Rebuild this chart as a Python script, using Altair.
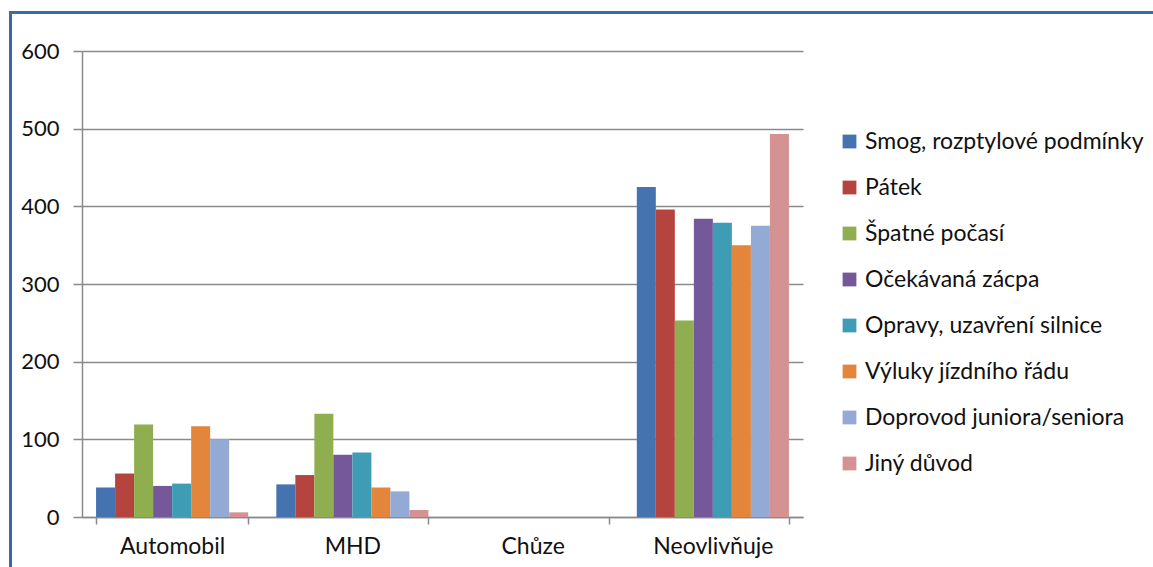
import altair as alt
import pandas as pd

# Transport mode categories on the x axis
categories = ["Automobil", "MHD", "Chůze", "Neovlivňuje"]

# Reasons (series), in legend order
reasons = [
    "Smog, rozptylové podmínky",
    "Pátek",
    "Špatné počasí",
    "Očekávaná zácpa",
    "Opravy, uzavření silnice",
    "Výluky jízdního řádu",
    "Doprovod juniora/seniora",
    "Jiný důvod",
]

# Counts per reason for each category
automobil = [38, 56, 119, 40, 43, 117, 100, 6]
mhd = [42, 54, 133, 80, 83, 38, 33, 9]
chuze = [0, 0, 0, 0, 0, 0, 0, 0]
neovlivnuje = [425, 396, 253, 384, 379, 350, 375, 493]

colors = ["#4573B0", "#B5443F", "#8FAE50", "#74589A",
          "#3F9CB5", "#E3853A", "#93ABD4", "#D49392"]

rows = []
for cat, vals in zip(categories, [automobil, mhd, chuze, neovlivnuje]):
    for i, (r, v) in enumerate(zip(reasons, vals)):
        rows.append({"kategorie": cat, "duvod": r, "poradi": i, "pocet": v})
df = pd.DataFrame(rows)

FONT = "Lato"
GRID = "#8a8a8a"
FS = 23

bars = alt.Chart(df).mark_bar(size=19).encode(
    x=alt.X(
        "kategorie:N",
        sort=categories,
        scale=alt.Scale(paddingInner=0.156, paddingOuter=0.078),
        axis=alt.Axis(
            title=None, labelAngle=0, tickBand="extent", tickSize=7,
            tickColor=GRID, domainColor=GRID, domainWidth=1.5, tickWidth=1.5,
            labelFontSize=FS, labelFont=FONT, labelColor="#111111",
            labelPadding=11, grid=False,
        ),
    ),
    xOffset=alt.XOffset("poradi:O", scale=alt.Scale(paddingInner=0, paddingOuter=0)),
    y=alt.Y(
        "pocet:Q",
        scale=alt.Scale(domain=[0, 600], nice=False),
        axis=alt.Axis(
            title=None, values=[0, 100, 200, 300, 400, 500, 600],
            tickSize=9, tickColor=GRID, tickWidth=1.5,
            domainColor=GRID, domainWidth=1.5,
            gridColor=GRID, gridWidth=1.5,
            labelFontSize=FS - 1, labelFont=FONT, labelColor="#111111",
            labelPadding=14,
        ),
    ),
    color=alt.Color(
        "duvod:N",
        sort=reasons,
        scale=alt.Scale(domain=reasons, range=colors),
        legend=alt.Legend(
            title=None, orient="none", legendX=756, legendY=79,
            symbolType="square", symbolSize=190, symbolStrokeWidth=0,
            labelFontSize=FS, labelFont=FONT, labelColor="#111111",
            labelOffset=4, rowPadding=22, padding=0, labelLimit=400,
        ),
    ),
)

# Blue frame around the chart object
frame = alt.Chart(pd.DataFrame({"k": [0]})).mark_rect(
    fill=None, stroke="#3D6AA5", strokeWidth=3, clip=False
).encode(
    x=alt.value(-71.5), x2=alt.value(1100),
    y=alt.value(-38.5), y2=alt.value(560),
)

chart = alt.layer(bars, frame).properties(
    width=721, height=466,
    padding={"left": 82, "top": 51, "right": 350, "bottom": 50},
    autosize=alt.AutoSizeParams(type="none"),
    background="white",
).configure_view(stroke=None)

chart.save("out.html", embed_options={"renderer": "svg", "actions": False})
